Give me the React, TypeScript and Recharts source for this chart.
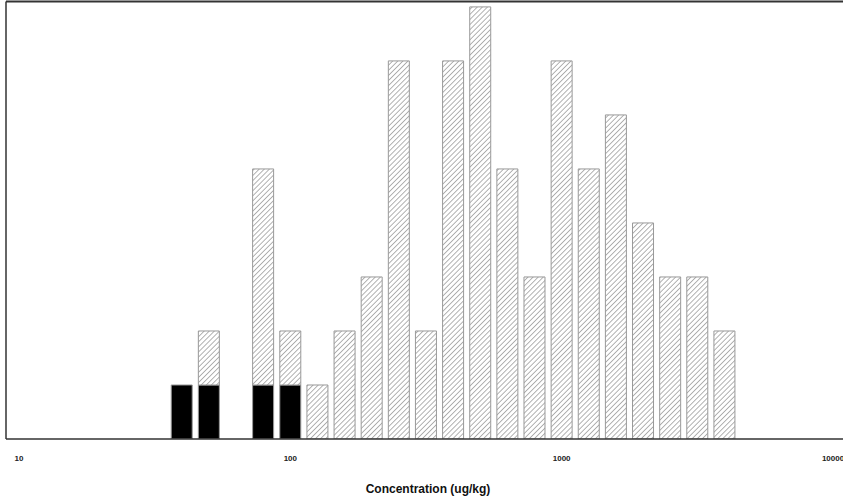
import { BarChart, Bar, XAxis, YAxis, ReferenceLine } from "recharts";

// bin centres (ug/kg), tenth-of-a-decade bins
const binCentres = [
  39.8, 50.1, 63.1, 79.4, 100, 125.9, 158.5, 199.5, 251.2, 316.2, 398.1,
  501.2, 631, 794.3, 1000, 1258.9, 1584.9, 1995.3, 2511.9, 3162.3, 3981.1,
];
// solid black part of each bar
const detectedCounts = [1, 1, 0, 1, 1, 0, 0, 0, 0, 0, 0, 0, 0, 0, 0, 0, 0, 0, 0, 0, 0];
// hatched part stacked on top
const hatchedCounts = [0, 1, 0, 4, 1, 1, 2, 3, 7, 2, 7, 8, 5, 3, 7, 5, 6, 4, 3, 3, 2];
const xTicks = [10, 100, 1000, 10000];

const data = binCentres.map((c, i) => ({
  conc: c,
  detected: detectedCounts[i],
  hatched: hatchedCounts[i],
}));

const frame = "#333";

export default function App() {
  return (
    <div style={{ position: "absolute", left: 0, top: 0, width: 843, height: 500, overflow: "hidden", background: "#fff" }}>
      <BarChart
        width={852}
        height={500}
        data={data}
        barSize={21}
        margin={{ top: 1.5, right: 2, bottom: 0, left: 4 }}
      >
        <defs>
          <pattern id="hatch" patternUnits="userSpaceOnUse" width={3.6} height={3.6} patternTransform="rotate(45)">
            <rect width={3.6} height={3.6} fill="#fff" />
            <line x1={0} y1={0} x2={0} y2={3.6} stroke="#666" strokeWidth={1} />
          </pattern>
        </defs>
        <XAxis
          dataKey="conc"
          type="number"
          scale="log"
          domain={[10, 10000]}
          ticks={xTicks}
          padding={{ left: 13, right: 17 }}
          allowDataOverflow
          height={61}
          tickLine={false}
          tickMargin={10}
          axisLine={{ stroke: frame, strokeWidth: 1.5 }}
          tick={{ fontSize: 8, fontWeight: "bold", fill: "#222", fontFamily: "Liberation Sans, Arial, sans-serif" }}
          label={{
            value: "Concentration (ug/kg)",
            position: "insideBottom",
            offset: 7,
            style: { fontSize: 12, fontWeight: "bold", fill: "#111", fontFamily: "Liberation Sans, Arial, sans-serif" },
          }}
        />
        <YAxis
          type="number"
          domain={[0, 8.1]}
          allowDataOverflow
          width={2}
          tick={false}
          tickLine={false}
          axisLine={{ stroke: frame, strokeWidth: 1.5 }}
        />
        <ReferenceLine y={8.1} stroke={frame} strokeWidth={2} />
        <Bar dataKey="detected" stackId="a" fill="#000" stroke="#999" strokeWidth={1} isAnimationActive={false} />
        <Bar dataKey="hatched" stackId="a" fill="url(#hatch)" stroke="#999" strokeWidth={1} isAnimationActive={false} />
      </BarChart>
    </div>
  );
}
